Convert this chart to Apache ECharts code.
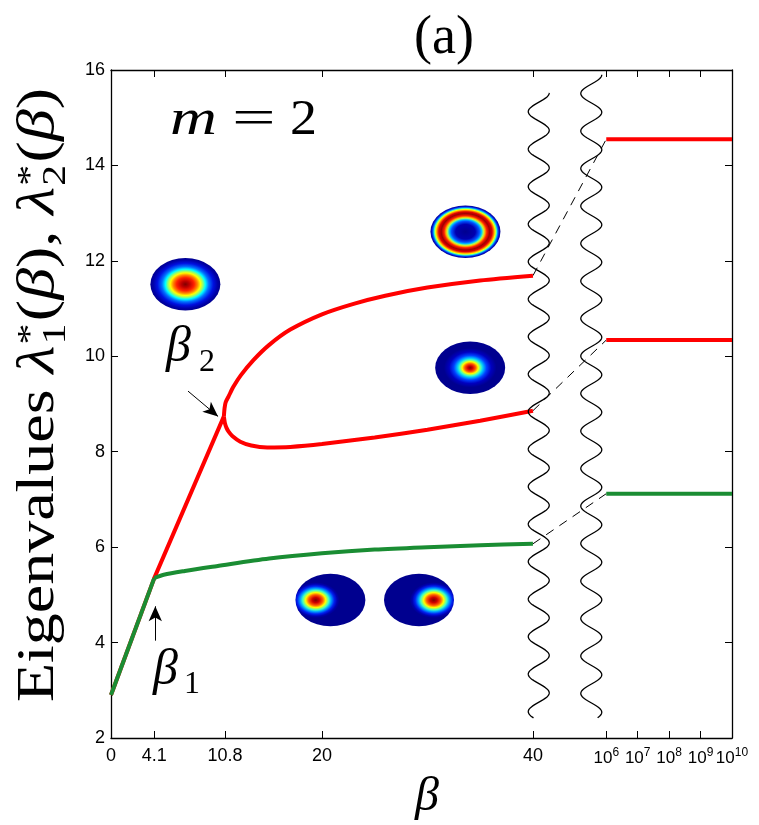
<!DOCTYPE html>
<html><head><meta charset="utf-8">
<script src="https://cdn.jsdelivr.net/npm/echarts@6/dist/echarts.min.js"></script>
<style>html,body{margin:0;padding:0;background:#fff}#c{width:759px;height:825px}</style>
</head><body><div id="c"></div>
<script>
// ---------------- data ----------------
const xTickBetas  = [0, 4.1, 10.8, 20, 40, 1e6, 1e7, 1e8, 1e9, 1e10];
const xTickLabels = ['0', '4.1', '10.8', '20', '40', '10^6', '10^7', '10^8', '10^9', '10^10'];
const yMin = 2, yMax = 16, yStep = 2;

// red curve up to the bifurcation point beta2
const redRiseBeta = [0, 4.1, 10.7];
const redRiseVal  = [2.9, 5.35, 8.74];
// upper red branch
const redUpperBeta = [10.7, 10.76, 10.86, 11.15, 11.6, 12.3, 13.5, 15, 17, 20, 23, 26, 30, 35, 40];
const redUpperVal  = [8.74, 8.9, 9.03, 9.16, 9.36, 9.6, 9.92, 10.24, 10.56, 10.88, 11.1, 11.27, 11.44, 11.59, 11.69];
// lower red branch
const redLowerBeta = [10.7, 10.8, 10.95, 11.15, 11.5, 12.26, 13.3, 14.8, 17, 20, 25, 30, 35, 40];
const redLowerVal  = [8.74, 8.6, 8.5, 8.42, 8.33, 8.21, 8.13, 8.09, 8.1, 8.16, 8.3, 8.46, 8.65, 8.86];
// green curve
const greenRiseBeta = [0, 4.1];
const greenRiseVal  = [2.9, 5.35];
const greenFlatBeta = [4.1, 5, 7, 10, 15, 20, 25, 30, 35, 40];
const greenFlatVal  = [5.35, 5.42, 5.5, 5.6, 5.76, 5.87, 5.95, 6.0, 6.04, 6.07];
// asymptotic values (beta from 1e6 to 1e10)
const farBeta = [1e6, 1e10];
const farRedTop = 14.55, farRedMid = 10.34, farGreen = 7.12;
// axis-break marks (axis position, bottom, top)
const breakMarks = [[40.55, 2.42, 15.52], [45.53, 2.42, 15.9]];
// mode-shape thumbnails (x in axis units, y, kind)
const diskX = [7.05, 33.6, 34.05, 20.8, 29.2];
const diskY = [11.51, 12.61, 9.76, 4.89, 4.89];
const diskKind = ['big', 'ring', 'small', 'left', 'right'];
// annotation arrows [from, to]
const arrows = [[[7.3, 9.27], [10.15, 8.74]], [[4.2, 4.04], [4.2, 4.76]]];

// ---------------- axis mapping (broken axis) ----------------
const LIN_END = 40, LOG_START = 46.95, DECADE = 2.98;
function mapBeta(b) { return b <= LIN_END ? b : LOG_START + (Math.log10(b) - 6) * DECADE; }
const xMax = mapBeta(1e10);
const xTickPos = xTickBetas.map(mapBeta);
const zip = (bs, vs) => bs.map((b, i) => [mapBeta(b), vs[i]]);

function labelFor(v) {
  let best = 0, d = Infinity;
  xTickPos.forEach((p, i) => { if (Math.abs(p - v) < d) { d = Math.abs(p - v); best = i; } });
  const s = xTickLabels[best];
  if (s.indexOf('^') > 0) { const [b, e] = s.split('^'); return '{b|' + b + '}{s|' + e + '}'; }
  return s;
}

// ---------------- gradients ----------------
const RG = (x, y, r, stops) => new echarts.graphic.RadialGradient(x, y, r, stops.map(s => ({offset: s[0], color: s[1]})));
const grads = {
  big: RG(0.5, 0.5, 0.5, [[0,'#800000'],[0.12,'#c00000'],[0.25,'#ff2000'],[0.35,'#ff8a00'],[0.43,'#ffff00'],[0.51,'#80ff80'],[0.57,'#00ffff'],[0.67,'#0070ff'],[0.8,'#0010e0'],[0.92,'#0000a8'],[1,'#00008f']]),
  small: RG(0.5, 0.5, 0.5, [[0,'#800000'],[0.07,'#d00000'],[0.15,'#ff5000'],[0.23,'#ffff00'],[0.31,'#40ffc0'],[0.37,'#00c0ff'],[0.47,'#0040ff'],[0.6,'#0000c0'],[0.75,'#00008f'],[1,'#00008f']]),
  ring: RG(0.5, 0.5, 0.5, [[0,'#00008f'],[0.28,'#0000b0'],[0.4,'#0050ff'],[0.46,'#00c0ff'],[0.51,'#a0ff60'],[0.55,'#ffc000'],[0.61,'#ff2000'],[0.69,'#a00000'],[0.76,'#e00000'],[0.81,'#ff8000'],[0.85,'#ffff00'],[0.89,'#40ffc0'],[0.92,'#0080ff'],[0.96,'#0010d0'],[1,'#00008f']]),
  left: RG(0.29, 0.5, 0.34, [[0,'#800000'],[0.15,'#d00000'],[0.3,'#ff6000'],[0.42,'#ffff00'],[0.55,'#40ffc0'],[0.65,'#00a0ff'],[0.78,'#0020f0'],[0.9,'#0000b0'],[1,'#00008f']]),
  right: RG(0.71, 0.5, 0.34, [[0,'#800000'],[0.15,'#d00000'],[0.3,'#ff6000'],[0.42,'#ffff00'],[0.55,'#40ffc0'],[0.65,'#00a0ff'],[0.78,'#0020f0'],[0.9,'#0000b0'],[1,'#00008f']])
};

// ---------------- styles ----------------
const RED = '#ff0000', GREEN = '#1a8d33';
const SERIF = '"Liberation Serif", "Times New Roman", serif';
const SANS = '"Liberation Sans", Arial, sans-serif';

function lineSeries(data, color, width, extra) {
  return Object.assign({type: 'line', data, symbol: 'none', showSymbol: false, silent: true,
    lineStyle: {color, width}, itemStyle: {color}, z: 3}, extra || {});
}
function dashed(b0, v0, b1, v1) {
  return lineSeries([[mapBeta(b0), v0], [mapBeta(b1), v1]], '#000', 1, {lineStyle: {color: '#000', width: 1, type: [9, 7]}, z: 2});
}

// ---------------- y-axis title built from measured pieces ----------------
const measureCtx = document.createElement('canvas').getContext('2d');
function measure(text, font) { measureCtx.font = font; return measureCtx.measureText(text).width; }
function buildYTitle() {
  const fs = 52, stretch = 1.23;
  const parts = [
    {t: 'Eigenvalues '}, {t: 'λ', it: true}, {sup: '*', sub: '1'}, {t: '('}, {t: 'β', it: true}, {t: '), '},
    {t: 'λ', it: true}, {sup: '*', sub: '2'}, {t: '('}, {t: 'β', it: true}, {t: ')'}
  ];
  const font = (size, it) => (it ? 'italic ' : '') + size + 'px ' + SERIF;
  const children = [];
  let x = 0;
  parts.forEach(p => {
    if (p.t !== undefined) {
      const f = font(fs, p.it);
      children.push({type: 'text', x, y: -0.34 * fs, style: {text: p.t, font: f, fill: '#000', verticalAlign: 'middle', align: 'left'}});
      x += measure(p.t, f);
    } else {
      const ss = Math.round(fs * 0.66);
      const f = font(ss, false);
      children.push({type: 'text', x: x + 1, y: -0.5 * fs, style: {text: p.sup, font: f, fill: '#000', verticalAlign: 'middle', align: 'left'}});
      children.push({type: 'text', x: x + 1, y: 0.2 * fs - 0.34 * ss, style: {text: p.sub, font: f, fill: '#000', verticalAlign: 'middle', align: 'left'}});
      x += Math.max(measure(p.sup, f), measure(p.sub, f)) + 3;
    }
  });
  return {type: 'group', x: 57, y: 395 + x * stretch / 2, rotation: Math.PI / 2, scaleX: stretch, children};
}

const chart = echarts.init(document.getElementById('c'), null, {renderer: 'canvas'});

const axisLine = {show: true, onZero: false, lineStyle: {color: '#000', width: 1.3}};
const tickStyle = {color: '#000', width: 1};
const option = {
  animation: false,
  backgroundColor: '#fff',
  grid: {left: 111, right: 27, top: 70, bottom: 87, containLabel: false},
  xAxis: [
    {type: 'value', min: 0, max: xMax, position: 'bottom', axisLine,
     splitLine: {show: false},
     axisTick: {show: true, inside: true, length: 7, customValues: xTickPos, lineStyle: tickStyle},
     axisLabel: {show: true, customValues: xTickPos, margin: 9, color: '#000', fontSize: 18, fontFamily: SANS,
       formatter: v => labelFor(v),
       rich: {b: {fontSize: 17, fontFamily: SANS, color: '#000', lineHeight: 22},
              s: {fontSize: 12, fontFamily: SANS, color: '#000', lineHeight: 12, verticalAlign: 'top'}}}},
    {type: 'value', min: 0, max: xMax, position: 'top', axisLine,
     splitLine: {show: false},
     axisTick: {show: true, inside: true, length: 7, customValues: xTickPos, lineStyle: tickStyle},
     axisLabel: {show: false}}
  ],
  yAxis: [
    {type: 'value', min: yMin, max: yMax, interval: yStep, position: 'left', axisLine,
     splitLine: {show: false},
     axisTick: {show: true, inside: true, length: 7, lineStyle: tickStyle},
     axisLabel: {show: true, margin: 6, color: '#000', fontSize: 18, fontFamily: SANS}},
    {type: 'value', min: yMin, max: yMax, interval: yStep, position: 'right', axisLine,
     splitLine: {show: false},
     axisTick: {show: true, inside: true, length: 7, lineStyle: tickStyle},
     axisLabel: {show: false}}
  ],
  series: [
    lineSeries(zip(redRiseBeta, redRiseVal), RED, 4),
    lineSeries(zip(redUpperBeta, redUpperVal), RED, 4, {smooth: 0.25}),
    lineSeries(zip(redLowerBeta, redLowerVal), RED, 4, {smooth: 0.2}),
    lineSeries(zip(farBeta, [farRedTop, farRedTop]), RED, 4),
    lineSeries(zip(farBeta, [farRedMid, farRedMid]), RED, 4),
    lineSeries(zip(greenRiseBeta, greenRiseVal), GREEN, 4, {z: 4}),
    lineSeries(zip(greenFlatBeta, greenFlatVal), GREEN, 4, {z: 4, smooth: 0.3}),
    lineSeries(zip(farBeta, [farGreen, farGreen]), GREEN, 4, {z: 4}),
    dashed(40, redUpperVal[redUpperVal.length - 1], 1e6, farRedTop),
    dashed(40, redLowerVal[redLowerVal.length - 1], 1e6, farRedMid),
    dashed(40, greenFlatVal[greenFlatVal.length - 1], 1e6, farGreen),
    {type: 'custom', silent: true, z: 5, data: breakMarks,
     renderItem: (params, api) => {
       const top = api.coord([api.value(0), api.value(2)]);
       const bot = api.coord([api.value(0), api.value(1)]);
       const A = 10.5, P = 37.5, pts = [];
       for (let y = top[1]; y <= bot[1]; y += 1) pts.push([top[0] + A * Math.cos(2 * Math.PI * (y - top[1]) / P), y]);
       return {type: 'polyline', shape: {points: pts}, style: {stroke: '#000', lineWidth: 1.3, fill: null}};
     }},
    {type: 'custom', silent: true, z: 6, data: diskX.map((x, i) => [x, diskY[i]]),
     renderItem: (params, api) => {
       const p = api.coord([api.value(0), api.value(1)]);
       return {type: 'group', x: p[0], y: p[1], scaleY: 0.75,
         children: [{type: 'circle', shape: {cx: 0, cy: 0, r: 35}, style: {fill: grads[diskKind[params.dataIndex]]}}]};
     }},
    {type: 'line', data: [], silent: true,
     markLine: {silent: true, symbol: ['none', 'arrow'], symbolSize: [10, 15], label: {show: false},
       lineStyle: {color: '#000', width: 1, type: 'solid'},
       data: arrows.map(a => [{coord: a[0]}, {coord: a[1]}])}}
  ],
  graphic: [
    {type: 'text', x: 444, y: 39, style: {text: '(a)', font: '54px ' + SERIF, fill: '#000', align: 'center', verticalAlign: 'middle'}},
    {type: 'text', x: 170, y: 138 - 0.34 * 50, scaleX: 1.3, style: {text: 'm', font: 'italic 50px ' + SERIF, fill: '#000', verticalAlign: 'middle'}},
    {type: 'text', x: 232, y: 138 - 0.34 * 50, scaleX: 1.55, style: {text: '=', font: '50px ' + SERIF, fill: '#000', verticalAlign: 'middle'}},
    {type: 'text', x: 290, y: 138 - 0.34 * 50, scaleX: 1.08, style: {text: '2', font: '50px ' + SERIF, fill: '#000', verticalAlign: 'middle'}},
    {type: 'text', x: 166, y: 365 - 0.34 * 50, style: {text: 'β', font: 'italic 50px ' + SERIF, fill: '#000', verticalAlign: 'middle'}},
    {type: 'text', x: 199, y: 373 - 0.34 * 32, style: {text: '2', font: '32px ' + SERIF, fill: '#000', verticalAlign: 'middle'}},
    {type: 'text', x: 153, y: 688 - 0.34 * 50, style: {text: 'β', font: 'italic 50px ' + SERIF, fill: '#000', verticalAlign: 'middle'}},
    {type: 'text', x: 184, y: 695 - 0.34 * 32, style: {text: '1', font: '32px ' + SERIF, fill: '#000', verticalAlign: 'middle'}},
    {type: 'text', x: 427, y: 797, style: {text: 'β', font: 'italic 48px ' + SERIF, fill: '#000', align: 'center', verticalAlign: 'middle'}},
    buildYTitle()
  ]
};
chart.setOption(option);
</script>
</body></html>
